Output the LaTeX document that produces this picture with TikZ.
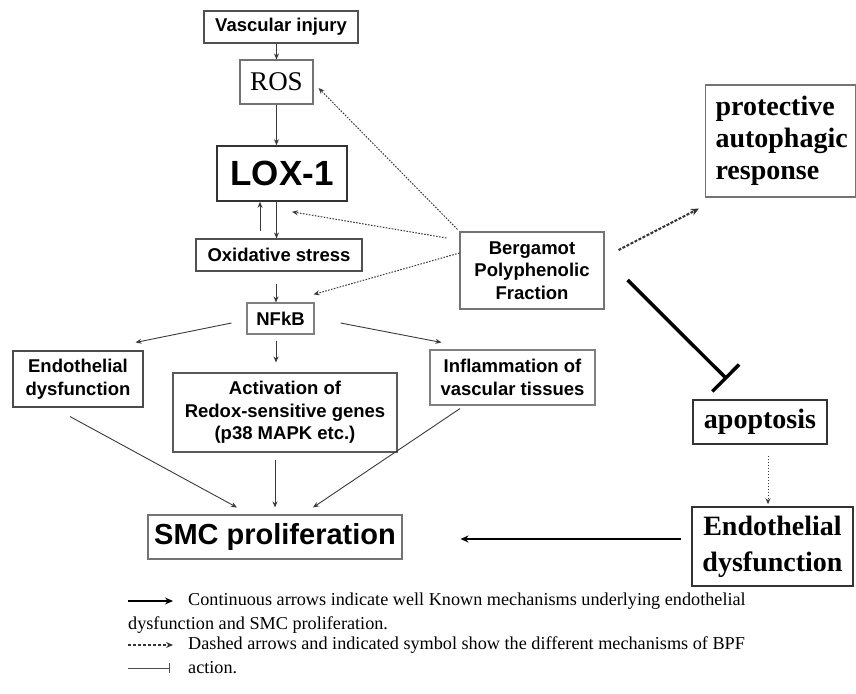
\documentclass[tikz,border=0pt]{standalone}
\usepackage{fontspec}
\setmainfont{Liberation Serif}
\newfontfamily\arialf{Liberation Sans}
\usetikzlibrary{arrows.meta,calc}
\definecolor{edgegray}{HTML}{3A3A3A}
\definecolor{boxgray}{HTML}{505050}
\tikzset{
  box/.style={draw=boxgray, line width=1.1pt, inner sep=0pt, align=center, fill=white},
  sfont/.style={font=\arialf\bfseries\fontsize{18.5}{22.5}\selectfont},
  serifbig/.style={font=\bfseries\fontsize{28}{32}\selectfont},
  arr/.style={draw=edgegray, line width=0.9pt, -{Stealth[length=6pt,width=5pt]}},
  dotarr/.style={draw=edgegray, line width=1pt, dash pattern=on 1.6pt off 1.4pt, -{Stealth[length=6pt,width=5pt]}},
  dasharr/.style={draw=black!80, line width=2pt, dash pattern=on 3pt off 1.5pt, -{Stealth[length=8pt,width=7pt]}},
  inhib/.style={draw=black, line width=3.5pt, -{Bar[width=38pt]}},
  thickarr/.style={draw=black, line width=1.8pt, -{Stealth[length=8pt,width=7pt]}},
  legtext/.style={font=\fontsize{18.2}{22}\selectfont, inner sep=0pt, anchor=west},
}
\begin{document}
\begin{tikzpicture}[x=1pt,y=-1pt]
\useasboundingbox (0,0) rectangle (856,693);
% nodes
\node[box, sfont, minimum width=154, minimum height=32] (vi) at (281,27) {Vascular injury};
\node[box, minimum width=73, minimum height=44, font=\fontsize{27}{30}\selectfont, draw=black!55] (ros) at (276.5,82) {ROS};
\node[box, minimum width=130, minimum height=55, line width=1.6pt, draw=black!80, font=\arialf\bfseries\fontsize{35}{40}\selectfont] (lox) at (282,173.5) {LOX-1};
\node[box, sfont, minimum width=166, minimum height=32] (ox) at (279,255) {Oxidative stress};
\node[box, sfont, minimum width=67, minimum height=31, draw=black!50] (nfkb) at (280.5,318.5) {NFkB};
\node[box, sfont, minimum width=144, minimum height=77, draw=black!55] (bpf) at (532,270.5) {Bergamot\\Polyphenolic\\Fraction};
\node[box, serifbig, minimum width=150, minimum height=112, draw=black!55, text width=130, align=left] (par) at (780.5,141) {protective\\autophagic\\response};
\node[box, sfont, minimum width=130, minimum height=56, draw=black!70] (edl) at (78,379) {Endothelial\\dysfunction};
\node[box, sfont, minimum width=224, minimum height=79, draw=black!65] (act) at (285,412.5) {Activation of\\Redox-sensitive genes\\(p38 MAPK etc.)};
\node[box, sfont, minimum width=165, minimum height=55, draw=black!50] (inf) at (512.5,377.5) {Inflammation of\\vascular tissues};
\node[box, minimum width=254, minimum height=44, draw=black!55, font=\arialf\bfseries\fontsize{29}{33}\selectfont] (smc) at (275,537) {SMC proliferation};
\node[box, serifbig, minimum width=134, minimum height=44, line width=1.6pt, draw=black!80] (apo) at (760,422) {apoptosis};
\node[box, minimum width=161, minimum height=79, line width=1.6pt, draw=black!80, font=\bfseries\fontsize{28}{36}\selectfont] (edr) at (772.5,546.5) {Endothelial\\dysfunction};
% main chain
\draw[arr] (vi.south -| ros.north) -- (ros.north);
\draw[arr] (ros.south) -- (ros.south |- lox.north);
\draw[arr] (ros.south |- lox.south) -- (ros.south |- ox.north);
\draw[arr] ($(ox.north)+(-19,-7)$) -- ($(lox.south)+(-22,0)$);
\draw[arr] ($(ox.south)+(-3,12)$) -- ($(nfkb.north)+(-4.5,0)$);
\draw[arr] ($(nfkb.west)+(-15,4.5)$) -- ($(edl.north east)+(-8,-8)$);
\draw[arr] ($(nfkb.south)+(-4.5,6)$) -- ($(act.north)+(-9,-10)$);
\draw[arr] ($(nfkb.east)+(26,4.5)$) -- ($(inf.north west)+(12,-7)$);
\draw[arr] ($(edl.south)+(-8,9)$) -- ($(smc.north)+(-38,-7)$);
\draw[arr] ($(act.south)+(-10,7)$) -- ($(smc.north)+(0,-7)$);
\draw[arr] ($(inf.south)+(-52.5,3)$) -- ($(smc.north)+(38,-7)$);
% BPF actions
\draw[dotarr] ($(bpf.north west)+(-2,-2)$) -- ($(ros.east)+(5,6)$);
\draw[dotarr] ($(bpf.west)+(-13,-32.5)$) -- ($(lox.south)+(10,10)$);
\draw[dotarr] ($(bpf.west)+(0,-17.5)$) -- ($(nfkb.north east)+(-1,-8)$);
\draw[dasharr] ($(bpf.east)+(14,-20.5)$) -- ($(par.south west)+(-6,11)$);
\draw[inhib] ($(bpf.east)+(23,9.5)$) -- ($(apo.north)+(-33,-20)$);
\draw[dotarr] ($(apo.south)+(8,11)$) -- ($(edr.north)+(-4.5,-2)$);
\draw[thickarr] ($(edr.west)+(-10,-7.5)$) -- ($(smc.east)+(58,2)$);
% legend
\coordinate (l1a) at (128,601); \coordinate (l1b) at (173,601);
\coordinate (l2a) at (128,645); \coordinate (l2b) at (173,645);
\coordinate (l3a) at (128,668); \coordinate (l3b) at (170,668);
\draw[thickarr, line width=1.6pt] (l1a) -- (l1b);
\draw[draw=black!80, line width=1.6pt, dash pattern=on 3pt off 2pt, -{Stealth[length=7pt,width=6pt]}] (l2a) -- (l2b);
\draw[draw=black!70, line width=0.8pt, -{Bar[width=10pt]}] (l3a) -- (l3b);
\node[legtext] (t1) at (188,601) {Continuous arrows indicate well Known mechanisms underlying endothelial};
\node[legtext] (t2) at (128,625) {dysfunction and SMC proliferation.};
\node[legtext] (t3) at (188,645) {Dashed arrows and indicated symbol show the different mechanisms of BPF};
\node[legtext] (t4) at (188,668) {action.};
\end{tikzpicture}
\end{document}
